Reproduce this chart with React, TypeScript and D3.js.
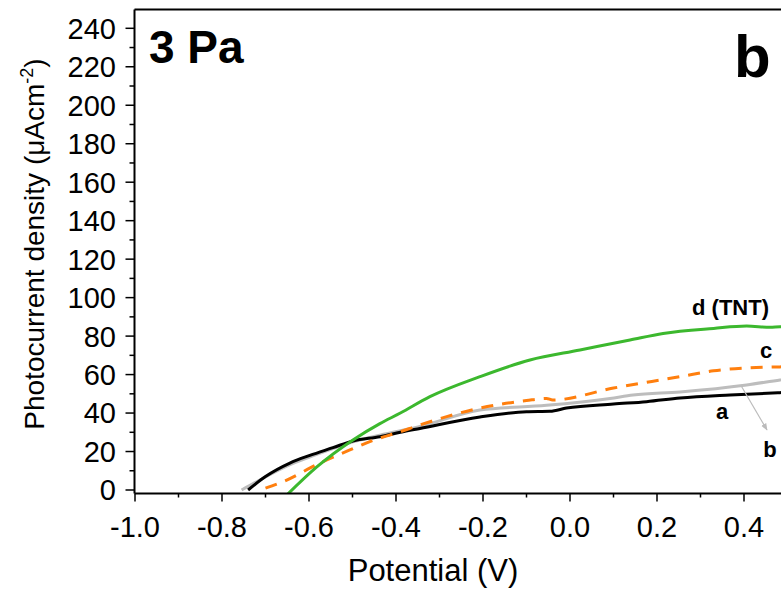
import React from "react";
import * as d3 from "d3";

const xTicks = [-1.0, -0.8, -0.6, -0.4, -0.2, 0.0, 0.2, 0.4];
const yTicks = [0, 20, 40, 60, 80, 100, 120, 140, 160, 180, 200, 220, 240];

const potA = [-0.74, -0.70, -0.644, -0.598, -0.545, -0.499, -0.437, -0.39, -0.345, -0.207, -0.1, -0.046, -0.008, 0.1, 0.176, 0.253, 0.368, 0.483, 0.56];
const curA = [0, 7, 14, 18, 22, 25.5, 27.7, 30, 32, 38, 40.7, 40.9, 42.6, 44.7, 45.9, 47.8, 49.4, 50.6, 51.3];

const potB = [-0.755, -0.713, -0.65, -0.6, -0.545, -0.499, -0.437, -0.345, -0.207, -0.054, 0.092, 0.145, 0.253, 0.406, 0.483, 0.56];
const curB = [0, 5.2, 12.5, 17, 21.5, 25, 28.5, 33, 41.6, 44, 47.6, 49.4, 51, 54.6, 57.2, 59.5];

const potC = [-0.70, -0.66, -0.575, -0.506, -0.45, -0.39, -0.345, -0.207, -0.1, -0.054, -0.04, 0.1, 0.253, 0.33, 0.406, 0.483, 0.56];
const curC = [1, 4.3, 14, 20.8, 26, 30.3, 33.8, 42.6, 46.5, 47.6, 46.8, 53, 58.9, 62, 63.4, 64, 64.3];

const potD = [-0.651, -0.582, -0.499, -0.437, -0.39, -0.322, -0.207, -0.092, 0.023, 0.138, 0.214, 0.33, 0.406, 0.46, 0.483, 0.56];
const curD = [-2.6, 12, 26, 34.5, 40, 48.5, 58.9, 67.6, 72.8, 78, 81.4, 84, 85.2, 84.6, 84.9, 85];

const W = 781;
const H = 590;
const left = 134.5;
const top = 9.5;
const bottom = 493.5;

export default function App() {
  const x = d3.scaleLinear().domain([-1.0, 0]).range([135, 570]);
  const y = d3.scaleLinear().domain([0, 240]).range([490, 28.3]);
  const line = d3.line<[number, number]>().x((d) => x(d[0])).y((d) => y(d[1])).curve(d3.curveMonotoneX);
  const zip = (a: number[], b: number[]) => a.map((v, i) => [v, b[i]] as [number, number]);

  const minorX = d3.range(-1.0, 0.65, 0.1).map((v) => Math.round(v * 10) / 10);
  const minorY = d3.range(10, 250, 20);
  const font = "'Liberation Sans', Arial, sans-serif";

  return (
    <svg width={W} height={H} style={{ position: "fixed", left: 0, top: 0 }} fontFamily={font}>
      <rect width={W} height={H} fill="#fff" />
      <defs>
        <clipPath id="plot">
          <rect x={left} y={top} width={W} height={bottom - top} />
        </clipPath>
        <marker id="arr" viewBox="0 0 10 10" refX="9" refY="5" markerWidth="6" markerHeight="8" orient="auto">
          <path d="M0,1 L10,5 L0,9 Z" fill="#bbbbbb" />
        </marker>
      </defs>
      <g clipPath="url(#plot)" fill="none" strokeLinejoin="round">
        <path d={line(zip(potB, curB)) || ""} stroke="#bdbdbd" strokeWidth={3} />
        <path d={line(zip(potA, curA)) || ""} stroke="#000" strokeWidth={3} />
        <path d={line(zip(potC, curC)) || ""} stroke="#ff7f0e" strokeWidth={3} strokeDasharray="12,9" />
        <path d={line(zip(potD, curD)) || ""} stroke="#3cb82e" strokeWidth={3} />
      </g>
      {/* frame */}
      <line x1={left} x2={W} y1={top} y2={top} stroke="#000" strokeWidth={2} />
      <line x1={left} x2={left} y1={top} y2={bottom} stroke="#000" strokeWidth={2} />
      <line x1={left} x2={W} y1={bottom} y2={bottom} stroke="#000" strokeWidth={2} />
      {/* x ticks */}
      {minorX.map((v) => {
        const major = Math.abs(Math.round(v * 10) % 2) === 0;
        return <line key={"xm" + v} x1={x(v)} x2={x(v)} y1={bottom} y2={bottom + (major ? 8 : 4)} stroke="#000" strokeWidth={1.5} />;
      })}
      {xTicks.map((v) => (
        <text key={"xl" + v} x={x(v)} y={537} textAnchor="middle" fontSize={29}>
          {v.toFixed(1)}
        </text>
      ))}
      {/* y ticks */}
      {yTicks.map((v) => (
        <g key={"y" + v}>
          <line x1={left - 9} x2={left} y1={y(v)} y2={y(v)} stroke="#000" strokeWidth={1.5} />
          <text x={116} y={y(v)} dy="0.36em" textAnchor="end" fontSize={29}>
            {v}
          </text>
        </g>
      ))}
      {minorY.map((v) => (
        <line key={"ym" + v} x1={left - 5} x2={left} y1={y(v)} y2={y(v)} stroke="#000" strokeWidth={1.5} />
      ))}
      {/* axis titles */}
      <text x={433} y={581} textAnchor="middle" fontSize={31}>
        Potential (V)
      </text>
      <text transform="translate(43.5,244) rotate(-90)" textAnchor="middle" fontSize={28}>
        Photocurrent density (μAcm
        <tspan dy="-11" fontSize={18}>-2</tspan>
        <tspan dy="11">)</tspan>
      </text>
      {/* panel labels */}
      <text x={149} y={63} fontSize={46} fontWeight="bold">3 Pa</text>
      <text x={734} y={77} fontSize={60} fontWeight="bold">b</text>
      {/* curve labels */}
      <text x={692} y={315} fontSize={22} fontWeight="bold">d (TNT)</text>
      <text x={766} y={358} fontSize={22} fontWeight="bold" textAnchor="middle">c</text>
      <text x={722} y={419} fontSize={22} fontWeight="bold" textAnchor="middle">a</text>
      <text x={770} y={457} fontSize={22} fontWeight="bold" textAnchor="middle">b</text>
      <line x1={741.7} y1={386.7} x2={767} y2={430} stroke="#bbbbbb" strokeWidth={1.2} markerEnd="url(#arr)" />
    </svg>
  );
}
